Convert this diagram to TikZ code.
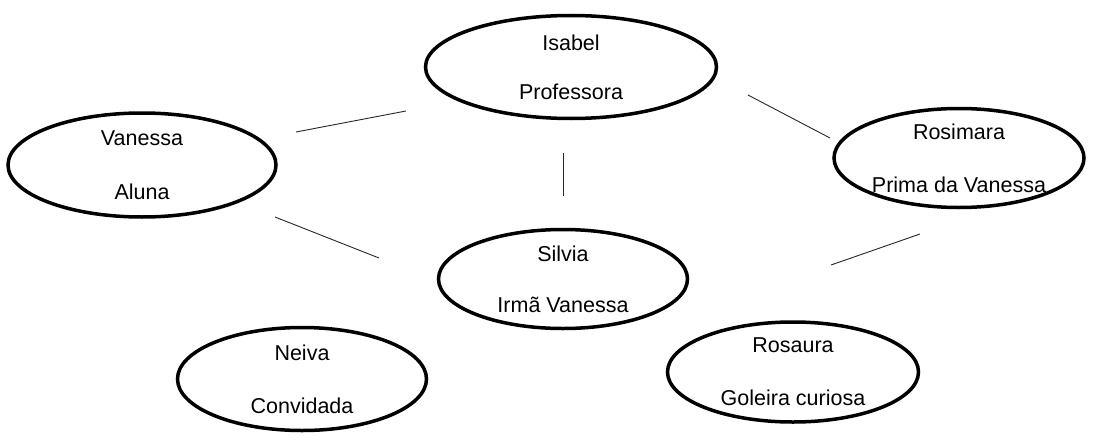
\documentclass[tikz,border=0pt]{standalone}
\usepackage{fontspec}
\setmainfont{Liberation Sans}
\usetikzlibrary{shapes.geometric}

\begin{document}
\begin{tikzpicture}[x=1pt,y=-1pt,
  person/.style={ellipse,draw,line width=3.5pt,inner sep=0pt,align=center,
    font=\fontsize{21.5}{25}\selectfont},
  link/.style={line width=0.9pt,black!85}]
  \useasboundingbox (0,0) rectangle (1094,436);
  % people
  \node[person,minimum width=291pt,minimum height=103pt] (isabel) at (571,67) {Isabel\\[24pt]Professora};
  \node[person,minimum width=268pt,minimum height=104pt] (vanessa) at (142,165) {Vanessa\\[29pt]Aluna};
  \node[person,minimum width=250pt,minimum height=99pt] (rosimara) at (959,158) {Rosimara\\[28pt]Prima da Vanessa};
  \node[person,minimum width=249pt,minimum height=99pt] (silvia) at (563,279) {Silvia\\[26pt]Irmã Vanessa};
  \node[person,minimum width=249pt,minimum height=103pt] (neiva) at (302,379) {Neiva\\[28pt]Convidada};
  \node[person,minimum width=251pt,minimum height=100pt] (rosaura) at (793,372) {Rosaura\\[28pt]Goleira curiosa};
  % line ends
  \coordinate (iv1) at (406,111); \coordinate (iv2) at (296,132);
  \coordinate (ir1) at (748,95);  \coordinate (ir2) at (830,138);
  \coordinate (is1) at (563,153); \coordinate (is2) at (563,196);
  \coordinate (vs1) at (275,217); \coordinate (vs2) at (379,258);
  \coordinate (sr1) at (831,265); \coordinate (sr2) at (920,234);
  \draw[link] (iv1) -- (iv2);
  \draw[link] (ir1) -- (ir2);
  \draw[link] (is1) -- (is2);
  \draw[link] (vs1) -- (vs2);
  \draw[link] (sr1) -- (sr2);
\end{tikzpicture}
\end{document}
